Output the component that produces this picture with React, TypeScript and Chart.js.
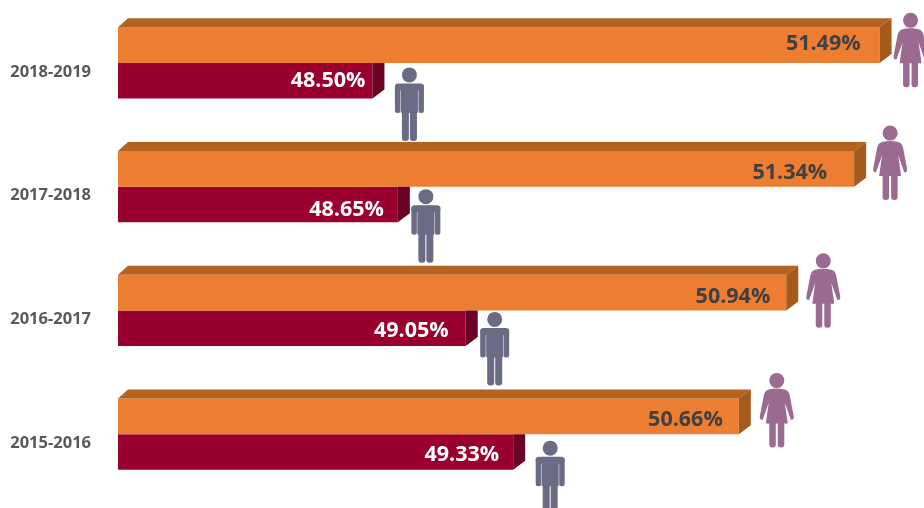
import React, { useEffect, useRef } from "react";
import { Chart, registerables } from "chart.js";

Chart.register(...registerables);

const categories = ["2018-2019", "2017-2018", "2016-2017", "2015-2016"];
const femaleShare = [51.49, 51.34, 50.94, 50.66];
const maleShare = [48.5, 48.65, 49.05, 49.33];

const AXIS_MIN = 47;
const AXIS_MAX = 51.752;
const FONT = '"Open Sans", sans-serif';

// Icon placement relative to each bar's end and top edge.
const femaleIconShift = [[31, -15], [36, -26], [37, -22], [38, -26]];
const maleIconShift = [[37, 4], [28, 2], [29, 1], [37, 6]];
// Value label placement: inset from the bar's end, drop from the bar's middle.
const femaleLabelShift = [[19, -1], [27, 4], [16, 4], [16, 4]];
const maleLabelShift = [[7, 0], [14, 5], [17, 3], [14, 3]];

function drawMale(ctx: CanvasRenderingContext2D, cx: number, top: number) {
  ctx.fillStyle = "#6A6B85";
  ctx.beginPath();
  ctx.arc(cx, top + 8, 7.5, 0, Math.PI * 2);
  ctx.fill();
  ctx.beginPath();
  ctx.roundRect(cx - 14.5, top + 16.5, 29, 7, 3.5);
  ctx.fill();
  ctx.beginPath();
  ctx.roundRect(cx - 14.5, top + 17, 5.5, 29, 2.5);
  ctx.roundRect(cx + 9, top + 17, 5.5, 29, 2.5);
  ctx.roundRect(cx - 8.5, top + 17, 17, 29, 1);
  ctx.roundRect(cx - 7.5, top + 40, 7, 34, 3);
  ctx.roundRect(cx + 0.5, top + 40, 7, 34, 3);
  ctx.fill();
}

function drawFemale(ctx: CanvasRenderingContext2D, cx: number, top: number) {
  ctx.fillStyle = "#9B6A90";
  ctx.beginPath();
  ctx.arc(cx, top + 8, 7.5, 0, Math.PI * 2);
  ctx.fill();
  ctx.beginPath();
  ctx.moveTo(cx - 8, top + 17);
  ctx.quadraticCurveTo(cx, top + 15, cx + 8, top + 17);
  ctx.quadraticCurveTo(cx + 12, top + 18, cx + 13, top + 23);
  ctx.lineTo(cx + 17, top + 44);
  ctx.quadraticCurveTo(cx + 17, top + 48, cx + 14, top + 47);
  ctx.lineTo(cx + 8, top + 30);
  ctx.lineTo(cx + 11, top + 51);
  ctx.lineTo(cx - 11, top + 51);
  ctx.lineTo(cx - 8, top + 30);
  ctx.lineTo(cx - 14, top + 47);
  ctx.quadraticCurveTo(cx - 17, top + 48, cx - 17, top + 44);
  ctx.lineTo(cx - 13, top + 23);
  ctx.quadraticCurveTo(cx - 12, top + 18, cx - 8, top + 17);
  ctx.closePath();
  ctx.fill();
  ctx.beginPath();
  ctx.roundRect(cx - 7.5, top + 48, 6.5, 27, 3);
  ctx.roundRect(cx + 1, top + 48, 6.5, 27, 3);
  ctx.fill();
}

const decorations = {
  id: "decorations",
  afterDatasetsDraw(chart: Chart) {
    const ctx = chart.ctx;
    const dx = 12;
    const dy = 9;
    ctx.save();
    chart.data.datasets.forEach((ds: any, di: number) => {
      chart.getDatasetMeta(di).data.forEach((bar: any, i: number) => {
        const left = chart.chartArea.left;
        const right = bar.x;
        const top = bar.y - bar.height / 2;
        const bottom = bar.y + bar.height / 2;
        const isFemale = di === 0;

        if (isFemale) {
          ctx.fillStyle = "#B5621F";
          ctx.beginPath();
          ctx.moveTo(left, top);
          ctx.lineTo(left + 10, top - dy);
          ctx.lineTo(right + dx, top - dy);
          ctx.lineTo(right, top);
          ctx.closePath();
          ctx.fill();
        }
        ctx.fillStyle = isFemale ? "#A65A1C" : "#6A0324";
        ctx.beginPath();
        ctx.moveTo(right, top);
        if (isFemale) ctx.lineTo(right + dx, top - dy);
        else ctx.lineTo(right + dx, top);
        ctx.lineTo(right + dx, bottom - dy);
        ctx.lineTo(right, bottom);
        ctx.closePath();
        ctx.fill();

        const lab = isFemale ? femaleLabelShift[i] : maleLabelShift[i];
        ctx.font = `bold 21.5px ${FONT}`;
        ctx.textAlign = "right";
        ctx.textBaseline = "middle";
        ctx.fillStyle = isFemale ? "#404040" : "#FFFFFF";
        ctx.fillText(`${ds.data[i].toFixed(2)}%`, right - lab[0], bar.y + lab[1]);

        const shift = isFemale ? femaleIconShift[i] : maleIconShift[i];
        if (isFemale) drawFemale(ctx, right + shift[0], top + shift[1]);
        else drawMale(ctx, right + shift[0], top + shift[1]);
      });
    });
    ctx.restore();
  },
};

export default function App() {
  const ref = useRef<HTMLCanvasElement>(null);

  useEffect(() => {
    const chart = new Chart(ref.current!, {
      type: "bar",
      data: {
        labels: categories,
        datasets: [
          { label: "Female", data: femaleShare, backgroundColor: "#ED7D31", borderWidth: 0 },
          { label: "Male", data: maleShare, backgroundColor: "#99002F", borderWidth: 0 },
        ],
      },
      options: {
        indexAxis: "y",
        animation: false,
        responsive: false,
        layout: { padding: { top: 1, bottom: 12, left: 0, right: 0 } },
        plugins: { legend: { display: false }, tooltip: { enabled: false } },
        datasets: { bar: { categoryPercentage: 0.574, barPercentage: 1 } },
        scales: {
          x: { display: false, min: AXIS_MIN, max: AXIS_MAX },
          y: {
            border: { display: false },
            grid: { display: false, drawTicks: false },
            afterFit(scale: any) {
              scale.width = 118;
              scale.paddingTop = 0;
              scale.paddingBottom = 0;
            },
            ticks: {
              padding: 27,
              color: "#595959",
              font: { family: FONT, size: 16.5, weight: "bold", lineHeight: 1.1 },
              callback: (_v: any, i: number) => ["", categories[i]],
            },
          },
        },
      },
      plugins: [decorations],
    } as any);
    return () => chart.destroy();
  }, []);

  return (
    <div style={{ position: "absolute", left: 0, top: 0, width: 924, height: 508, background: "#fff", overflow: "hidden" }}>
      <canvas ref={ref} width={924} height={508} style={{ display: "block", filter: "blur(0.4px)" }} />
    </div>
  );
}
